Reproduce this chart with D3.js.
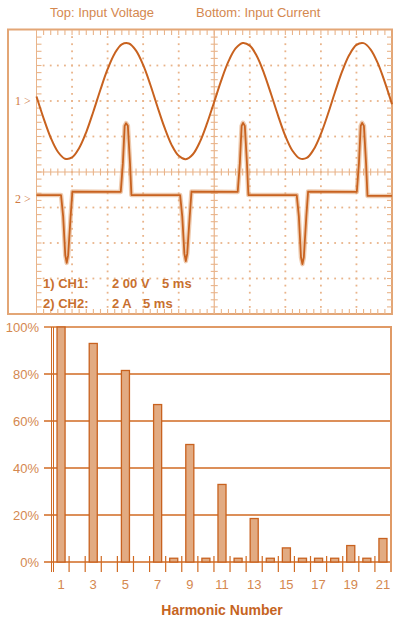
<!DOCTYPE html>
<html>
<head>
<meta charset="utf-8">
<script src="https://cdn.jsdelivr.net/npm/d3@7"></script>
<style>
  html, body { margin: 0; padding: 0; background: #ffffff; }
  svg { display: block; font-family: "Liberation Sans", Arial, Helvetica, sans-serif; }
</style>
</head>
<body>
<svg id="chart" width="398" height="620"></svg>
<script>
// ---------- Oscilloscope traces ----------
// CH1 input voltage, sampled every 1 ms (volts)
const voltageTime = [0,1,2,3,4,5,6,7,8,9,10,11,12,13,14,15,16,17,18,19,20,
  21,22,23,24,25,26,27,28,29,30,31,32,33,34,35,36,37,38,39,40,
  41,42,43,44,45,46,47,48,49,50];
const voltageValues = [25,-98,-207,-286,-325,-318,-265,-175,-59,65,179,
  268,319,324,284,203,93,-31,-149,-247,-309,
  -328,-300,-229,-125,-4,118,223,296,327,312,
  252,156,38,-85,-197,-280,-323,-321,-272,-185,
  -72,52,168,260,316,326,290,213,105,-18];

// CH2 input current (amps) at the sample times (ms)
const currentTime = [0,3.45,3.75,4.05,4.25,4.45,4.8,5.05,
  11.85,12.15,12.4,12.6,12.85,13.15,13.35,
  20.2,20.5,20.8,21.0,21.2,21.55,21.8,
  28.3,28.6,28.85,29.05,29.3,29.6,29.8,
  36.6,36.9,37.2,37.4,37.6,37.95,38.2,
  45.05,45.35,45.6,45.8,46.05,46.35,46.55,50];
const currentValues = [0.2,0.2,-1.0,-3.2,-3.62,-3.2,-1.0,0.4,
  0.38,2.0,4.1,4.25,4.1,2.0,0.2,
  0.2,-1.0,-3.1,-3.52,-3.1,-1.0,0.4,
  0.38,2.0,4.1,4.27,4.1,2.0,0.2,
  0.2,-1.0,-3.3,-3.69,-3.3,-1.0,0.4,
  0.38,2.0,4.1,4.27,4.1,2.0,0.15,0.15];

// ---------- Harmonic spectrum ----------
const harmonics = [1,2,3,4,5,6,7,8,9,10,11,12,13,14,15,16,17,18,19,20,21];
const harmonicPercent = [100,0,93,0,81.5,0,67,1.6,50,1.6,33,1.6,18.5,1.6,6,1.6,1.6,1.6,7,1.6,10];
const harmonicTickLabels = [1,3,5,7,9,11,13,15,17,19,21];
const percentTicks = [0,20,40,60,80,100];

// ---------- Styles ----------
const traceColor = "#c8621f";
const gridColor = "#e9b48a";
const frameColor = "#e3a676";
const textLight = "#d4884f";
const barFill = "#e2ab82";
const barStroke = "#c8621f";
const ruleColor = "#d06a22";

const svg = d3.select("#chart");

// Header
svg.append("text").attr("x", 50).attr("y", 17).attr("font-size", 13)
  .attr("fill", textLight).text("Top: Input Voltage");
svg.append("text").attr("x", 196).attr("y", 17).attr("font-size", 13)
  .attr("fill", textLight).text("Bottom: Input Current");

// ---------- Scope screen ----------
const scope = svg.append("g");
const gx0 = 36.5, gx1 = 392, gy0 = 30, gy1 = 314;
const divX = (gx1 - gx0) / 10, divY = (gy1 - gy0) / 8;

const xT = d3.scaleLinear().domain([0, 50]).range([gx0, gx1]);
const chan1Zero = gy0 + 2 * divY;          // CH1 reference level
const chan2Zero = gy0 + 4.75 * divY;       // CH2 reference level
const yV = d3.scaleLinear().domain([0, 200]).range([chan1Zero, chan1Zero - divY]);
const yI = d3.scaleLinear().domain([0, 2]).range([chan2Zero, chan2Zero - divY]);

// outer frame
scope.append("rect").attr("x", 8).attr("y", 29.5).attr("width", gx1 - 8).attr("height", gy1 - 29.5)
  .attr("fill", "none").attr("stroke", frameColor).attr("stroke-width", 2);
// graticule edge on the left
scope.append("line").attr("x1", gx0).attr("x2", gx0).attr("y1", gy0).attr("y2", gy1)
  .attr("stroke", gridColor).attr("stroke-width", 1);

// dotted division lines
const dots = [];
for (let i = 1; i < 10; i++) {
  if (i === 5) continue;
  const x = gx0 + i * divX;
  for (let k = 1; k < 40; k++) dots.push([x, gy0 + k * divY / 5]);
}
for (let j = 1; j < 8; j++) {
  if (j === 4) continue;
  const y = gy0 + j * divY;
  for (let k = 1; k < 50; k++) dots.push([gx0 + k * divX / 5, y]);
}
scope.append("g").selectAll("rect").data(dots).join("rect")
  .attr("x", d => d[0] - 0.9).attr("y", d => d[1] - 0.9)
  .attr("width", 1.8).attr("height", 1.8).attr("fill", gridColor);

// centre axes with minor ticks
const cx = gx0 + 5 * divX, cy = gy0 + 4 * divY;
scope.append("line").attr("x1", gx0).attr("x2", gx1).attr("y1", cy).attr("y2", cy)
  .attr("stroke", gridColor).attr("stroke-width", 1.2);
scope.append("line").attr("x1", cx).attr("x2", cx).attr("y1", gy0).attr("y2", gy1)
  .attr("stroke", gridColor).attr("stroke-width", 1.2);
const ticks = scope.append("g").attr("stroke", gridColor).attr("stroke-width", 1.1);
for (let k = 1; k < 50; k++) {
  const x = gx0 + k * divX / 5;
  ticks.append("line").attr("x1", x).attr("x2", x).attr("y1", cy - 3.5).attr("y2", cy + 3.5);
  ticks.append("line").attr("x1", x).attr("x2", x).attr("y1", gy0).attr("y2", gy0 + 5);
  ticks.append("line").attr("x1", x).attr("x2", x).attr("y1", gy1 - 5).attr("y2", gy1);
}
for (let k = 1; k < 40; k++) {
  const y = gy0 + k * divY / 5;
  ticks.append("line").attr("x1", cx - 3.5).attr("x2", cx + 3.5).attr("y1", y).attr("y2", y);
  ticks.append("line").attr("x1", gx0).attr("x2", gx0 + 5).attr("y1", y).attr("y2", y);
  ticks.append("line").attr("x1", gx1 - 5).attr("x2", gx1).attr("y1", y).attr("y2", y);
}

// channel markers
scope.append("text").attr("x", 15).attr("y", chan1Zero + 4).attr("font-size", 12)
  .attr("font-family", "'Liberation Serif', 'DejaVu Serif', serif").attr("fill", "#cf7a44").text("1 >");
scope.append("text").attr("x", 15).attr("y", chan2Zero + 4).attr("font-size", 12)
  .attr("font-family", "'Liberation Serif', 'DejaVu Serif', serif").attr("fill", "#cf7a44").text("2 >");

// voltage trace
const vLine = d3.line().x((d, i) => xT(voltageTime[i])).y(d => yV(d)).curve(d3.curveCatmullRom);
scope.append("path").datum(voltageValues).attr("d", vLine)
  .attr("fill", "none").attr("stroke", traceColor).attr("stroke-width", 2);

// current trace (noise band underneath, then the trace)
const iLine = d3.line().x((d, i) => xT(currentTime[i])).y(d => yI(d));
scope.append("path").datum(currentValues).attr("d", iLine)
  .attr("fill", "none").attr("stroke", "#e0a070").attr("stroke-width", 4.5)
  .attr("stroke-opacity", 0.55).attr("stroke-linejoin", "round");
scope.append("path").datum(currentValues).attr("d", iLine)
  .attr("fill", "none").attr("stroke", traceColor).attr("stroke-width", 1.8)
  .attr("stroke-linejoin", "round");

// channel settings readout
const readout = scope.append("g").attr("font-size", 13).attr("font-weight", "bold").attr("fill", "#c8702f");
readout.append("text").attr("x", 43).attr("y", 288).text("1) CH1:");
readout.append("text").attr("x", 112).attr("y", 288).text("2 00 V");
readout.append("text").attr("x", 162).attr("y", 288).text("5 ms");
readout.append("text").attr("x", 43).attr("y", 307.5).text("2) CH2:");
readout.append("text").attr("x", 112).attr("y", 307.5).text("2 A");
readout.append("text").attr("x", 143).attr("y", 307.5).text("5 ms");

// ---------- Harmonic bar chart ----------
const bx0 = 53, bx1 = 391, by0 = 562, by1 = 327;
const xB = d3.scaleBand().domain(harmonics).range([bx0, bx1]).paddingInner(0.5).paddingOuter(0.25);
const yB = d3.scaleLinear().domain([0, 100]).range([by0, by1]);
const bars = svg.append("g");

// horizontal rules
bars.append("g").selectAll("line").data(percentTicks.filter(p => p < 100)).join("line")
  .attr("x1", 44).attr("x2", bx1).attr("y1", d => yB(d)).attr("y2", d => yB(d))
  .attr("stroke", ruleColor).attr("stroke-width", 1.5);
// frame: top and right edges
bars.append("line").attr("x1", 44).attr("x2", bx1 + 1).attr("y1", yB(100)).attr("y2", yB(100))
  .attr("stroke", "#e09a66").attr("stroke-width", 2);
bars.append("line").attr("x1", bx1).attr("x2", bx1).attr("y1", yB(100)).attr("y2", by0 + 10)
  .attr("stroke", "#e09a66").attr("stroke-width", 2);
// left axis (double rule)
bars.append("line").attr("x1", bx0 - 1.5).attr("x2", bx0 - 1.5).attr("y1", yB(100)).attr("y2", by0 + 10)
  .attr("stroke", ruleColor).attr("stroke-width", 1);
bars.append("line").attr("x1", bx0 + 0.5).attr("x2", bx0 + 0.5).attr("y1", yB(100)).attr("y2", by0 + 10)
  .attr("stroke", ruleColor).attr("stroke-width", 1);

// category boundary ticks
const step = xB.step();
const bounds = harmonics.slice(1).map(h => xB(h) + xB.bandwidth() / 2 - step / 2);
bars.append("g").selectAll("line").data(bounds).join("line")
  .attr("x1", d => d).attr("x2", d => d).attr("y1", by0 - 6).attr("y2", by0 + 10)
  .attr("stroke", ruleColor).attr("stroke-width", 1.2);

// bars
const barData = harmonics.map((h, i) => ({ h, v: harmonicPercent[i] })).filter(d => d.v > 0);
bars.append("g").selectAll("rect").data(barData).join("rect")
  .attr("x", d => xB(d.h)).attr("width", xB.bandwidth())
  .attr("y", d => yB(d.v)).attr("height", d => yB(0) - yB(d.v))
  .attr("fill", barFill).attr("stroke", barStroke).attr("stroke-width", 1.3);

// y labels
bars.append("g").selectAll("text").data(percentTicks).join("text")
  .attr("x", 39).attr("y", d => yB(d) + 4.5).attr("text-anchor", "end")
  .attr("font-size", 13).attr("fill", textLight).text(d => d + "%");

// x labels
bars.append("g").selectAll("text").data(harmonicTickLabels).join("text")
  .attr("x", d => xB(d) + xB.bandwidth() / 2).attr("y", 589).attr("text-anchor", "middle")
  .attr("font-size", 13).attr("fill", textLight).text(d => d);

// x title
svg.append("text").attr("x", 222).attr("y", 615).attr("text-anchor", "middle")
  .attr("font-size", 14).attr("font-weight", "bold").attr("fill", "#c6641f").text("Harmonic Number");
</script>
</body>
</html>
